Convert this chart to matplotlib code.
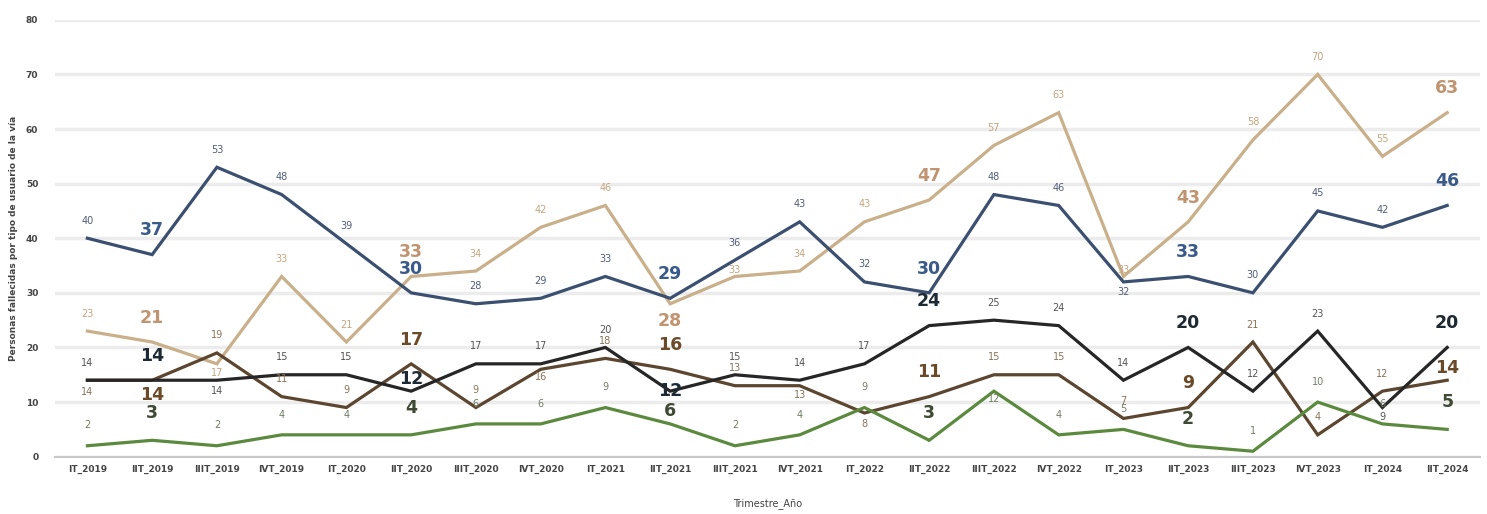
import numpy as np
import matplotlib
matplotlib.use('Agg')
import matplotlib.pyplot as plt

# Data
#-----------------------------------------------------------------------------#
quarters = ['IT_2019', 'IIT_2019', 'IIIT_2019', 'IVT_2019',
            'IT_2020', 'IIT_2020', 'IIIT_2020', 'IVT_2020',
            'IT_2021', 'IIT_2021', 'IIIT_2021', 'IVT_2021',
            'IT_2022', 'IIT_2022', 'IIIT_2022', 'IVT_2022',
            'IT_2023', 'IIT_2023', 'IIIT_2023', 'IVT_2023',
            'IT_2024', 'IIT_2024']
blue  = [40, 37, 53, 48, 39, 30, 28, 29, 33, 29, 36, 43, 32, 30, 48, 46, 32, 33, 30, 45, 42, 46]
tan   = [23, 21, 17, 33, 21, 33, 34, 42, 46, 28, 33, 34, 43, 47, 57, 63, 33, 43, 58, 70, 55, 63]
black = [14, 14, 14, 15, 15, 12, 17, 17, 20, 12, 15, 14, 17, 24, 25, 24, 14, 20, 12, 23,  9, 20]
brown = [14, 14, 19, 11,  9, 17,  9, 16, 18, 16, 13, 13,  8, 11, 15, 15,  7,  9, 21,  4, 12, 14]
green = [ 2,  3,  2,  4,  4,  4,  6,  6,  9,  6,  2,  4,  9,  3, 12,  4,  5,  2,  1, 10,  6,  5]

# Styles: (name, values, line colour, small label colour, bold label colour, label offset in points)
#-----------------------------------------------------------------------------#
series = [
    ('tan',   tan,   '#c9b08a', '#c4a57e', '#c09470', 9),
    ('blue',  blue,  '#3b4f70', '#4f5d78', '#3a5a8a', 9),
    ('brown', brown, '#5c4630', '#8a7358', '#6b4a2a', 9),
    ('black', black, '#262626', '#555555', '#1e2a33', 9),
    ('green', green, '#5b8a3f', '#6f7f63', '#3e4a34', 11),
]
bold_idx = [1, 5, 9, 13, 17, 21]

# label placement tweaks (offset in points, negative = below the line, 0 = on it)
below = {('brown', 0): -5, ('brown', 1): -4, ('tan', 2): -3, ('black', 2): -4,
         ('black', 5): 2, ('black', 9): 0, ('green', 9): 3, ('tan', 9): -6,
         ('brown', 11): -3, ('brown', 12): -4, ('blue', 16): -4, ('tan', 16): 1,
         ('black', 20): -3, ('green', 14): -2, ('brown', 21): 2, ('tan', 10): 1,
         ('brown', 7): -2}

# Plot
#-----------------------------------------------------------------------------#
fig = plt.figure(figsize=(14.87, 5.14), dpi=100)
ax  = fig.add_axes([0.037, 0.1115, 0.958, 0.85])
x   = np.arange(len(quarters))

for name, vals, lc, sc, bc, off in series:
    ax.plot(x, vals, color=lc, linewidth=2.3, solid_joinstyle='miter', zorder=3)
    for i, v in enumerate(vals):
        o  = below.get((name, i), off + (2 if i in bold_idx else 0))
        va = 'top' if o < 0 else ('center' if o == 0 else 'bottom')
        if i in bold_idx:
            ax.annotate(str(v), (i, v), xytext=(0, o), textcoords='offset points',
                        ha='center', va=va, fontsize=12.5, fontweight='bold',
                        color=bc, zorder=4)
        else:
            ax.annotate(str(v), (i, v), xytext=(0, o), textcoords='offset points',
                        ha='center', va=va, fontsize=7, color=sc, zorder=4)

ax.set_xlim(-0.5, 21.5)
ax.set_ylim(0, 80)
ax.set_yticks(np.arange(0, 81, 10))
ax.set_xticks(x, labels=quarters)
ax.grid(True, axis='y', color='#ececec', linewidth=2.5, zorder=0)
ax.set_axisbelow(True)
for s in ['top', 'right', 'left']:
    ax.spines[s].set_visible(False)
ax.spines['bottom'].set_color('#c8c8c8')
ax.spines['bottom'].set_linewidth(1.5)
ax.tick_params(axis='both', length=0, labelsize=6.5, labelcolor='#444444')
for lab in ax.get_xticklabels() + ax.get_yticklabels():
    lab.set_fontweight('bold')
ax.tick_params(axis='x', pad=6)
ax.tick_params(axis='y', pad=12)
ax.set_xlabel('Trimestre_Año', fontsize=7, color='#444444', labelpad=17)
ax.set_ylabel('Personas fallecidas por tipo de usuario de la vía', fontsize=6.5,
              fontweight='bold', color='#444444', labelpad=6)

fig.savefig('out.png', dpi=100)
